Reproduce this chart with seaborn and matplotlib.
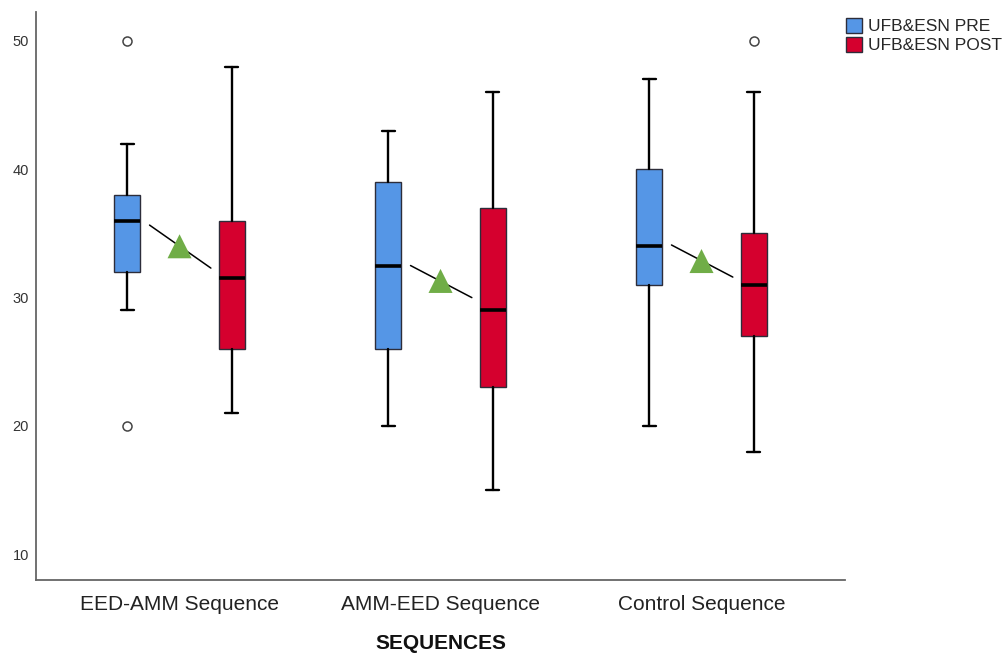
import numpy as np
import matplotlib
matplotlib.use("Agg")
import matplotlib.pyplot as plt
import seaborn as sns
from matplotlib.patches import Patch

# categories and series
sequences = ["EED-AMM Sequence", "AMM-EED Sequence", "Control Sequence"]
phases = ["UFB&ESN PRE", "UFB&ESN POST"]

# five-number summaries: [whisker low, Q1, median, Q3, whisker high]
pre_stats = [
    [29, 32, 36, 38, 42],
    [20, 26, 32.5, 39, 43],
    [20, 31, 34, 40, 47],
]
post_stats = [
    [21, 26, 31.5, 36, 48],
    [15, 23, 29, 37, 46],
    [18, 27, 31, 35, 46],
]
pre_outliers = [[50, 20], [], []]
post_outliers = [[], [], [50]]

# green triangles and the short connector through them
mean_marker = [34.0, 31.3, 32.85]
connector_start = [35.65, 32.5, 34.1]
connector_end = [32.3, 30.0, 31.6]

colors = {"UFB&ESN PRE": "#5596E6", "UFB&ESN POST": "#D5002E"}
tri_color = "#70AD47"


def make_stats(vals, fliers):
    lo, q1, med, q3, hi = vals
    return {"whislo": lo, "q1": q1, "med": med, "q3": q3, "whishi": hi, "fliers": fliers}


sns.set_style("white")
plt.rcParams["font.family"] = ["Liberation Sans", "DejaVu Sans"]

fig = plt.figure(figsize=(10.06, 6.53), dpi=100)
ax = fig.add_axes([0.0358, 0.1118, 0.8042, 0.8698])

x = np.arange(len(sequences))
offset = 0.2

for phase, stats_list, fl_list, shift in [
    ("UFB&ESN PRE", pre_stats, pre_outliers, -offset),
    ("UFB&ESN POST", post_stats, post_outliers, offset),
]:
    stats = [make_stats(s, f) for s, f in zip(stats_list, fl_list)]
    ax.bxp(
        stats,
        positions=x + shift,
        widths=0.1,
        capwidths=0.05,
        patch_artist=True,
        showfliers=True,
        boxprops=dict(facecolor=colors[phase], edgecolor="#2d2d3a", linewidth=1.0),
        medianprops=dict(color="black", linewidth=2.6),
        whiskerprops=dict(color="black", linewidth=1.7),
        capprops=dict(color="black", linewidth=1.7),
        flierprops=dict(marker="o", markerfacecolor="white", markeredgecolor="#444444",
                        markersize=6.5, markeredgewidth=1.1),
        manage_ticks=False,
    )

# connectors and mean triangles
for i in range(len(sequences)):
    ax.plot([x[i] - 0.115, x[i] + 0.12], [connector_start[i], connector_end[i]],
            color="black", linewidth=1.1, zorder=3)
sns.scatterplot(x=x, y=mean_marker, marker="^", s=300, color=tri_color,
                edgecolor="none", ax=ax, zorder=4, legend=False)

ax.set_xlim(-0.55, 2.55)
ax.set_ylim(8, 52.25)
ax.set_yticks([10, 20, 30, 40, 50])
ax.set_xticks(x)
ax.set_xticklabels(sequences, fontsize=15, color="#222222")
ax.tick_params(axis="y", labelsize=10.5, labelcolor="#333333", length=0, pad=5)
ax.tick_params(axis="x", length=0, pad=10.5)
ax.set_xlabel("SEQUENCES", fontsize=15, fontweight="bold", labelpad=14.5, color="#111111")
ax.set_ylabel("")

for side in ["top", "right"]:
    ax.spines[side].set_visible(False)
for side in ["left", "bottom"]:
    ax.spines[side].set_color("#666666")
    ax.spines[side].set_linewidth(1.3)

handles = [Patch(facecolor=colors[p], edgecolor="#2d2d3a", linewidth=1.0, label=p) for p in phases]
fig.legend(handles=handles, loc="upper left", bbox_to_anchor=(0.841, 0.972),
           frameon=False, fontsize=12.5, handlelength=0.9, handleheight=0.9,
           handletextpad=0.35, labelspacing=0.16, borderpad=0, borderaxespad=0)

fig.savefig("out.png", dpi=100)
